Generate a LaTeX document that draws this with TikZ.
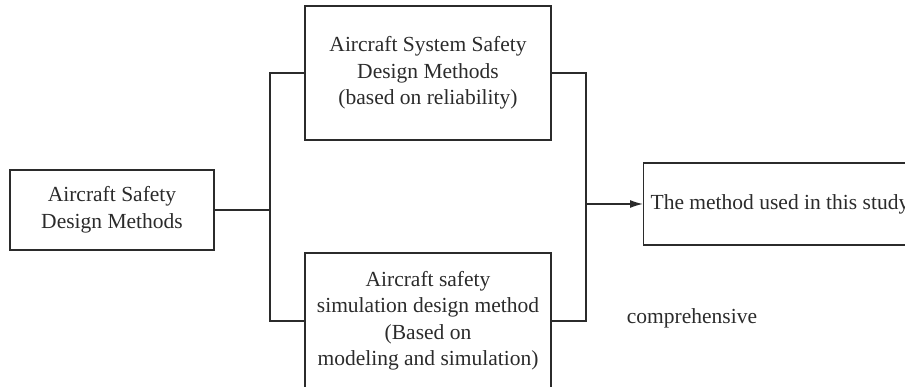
\documentclass[tikz,border=0pt]{standalone}
\usepackage{fontspec}
\setmainfont{Liberation Serif}
\usetikzlibrary{arrows.meta}
\definecolor{ink}{HTML}{2B2B2B}
\begin{document}
\begin{tikzpicture}[x=1pt,y=1pt,
  box/.style={draw=ink,line width=1.3pt,align=center,inner sep=0pt,
    font=\fontsize{21.5}{26.5}\selectfont,text=ink},
  conn/.style={draw=ink,line width=1.3pt}]
\useasboundingbox (0,0) rectangle (905,387);
\clip (0,0) rectangle (905,387);
\node[box,minimum width=204,minimum height=80] (L) at (112,177)
  {Aircraft Safety\\Design Methods};
\node[box,minimum width=246,minimum height=134] (T) at (428,314)
  {Aircraft System Safety\\Design Methods\\(based on reliability)};
\node[box,minimum width=246,minimum height=136] (B) at (428,66)
  {Aircraft safety\\simulation design method\\(Based on\\modeling and simulation)};
\node[box,anchor=west,minimum height=82,inner xsep=7pt] (R) at (643,183)
  {The method used in this study};
\node[font=\fontsize{21.5}{26.5}\selectfont,text=ink,inner sep=0pt] (C) at (692,69) {comprehensive};
\coordinate (jl) at (270,177);
\coordinate (jr) at (586,183);
\draw[conn] (L.east) -- (jl);
\draw[conn] (T.west) -| (jl) |- (B.west);
\draw[conn] (T.east) -| (jr) |- (B.east);
\draw[conn,-{Latex[length=13pt,width=8pt]}] (jr) -- (R.west);
\end{tikzpicture}
\end{document}
